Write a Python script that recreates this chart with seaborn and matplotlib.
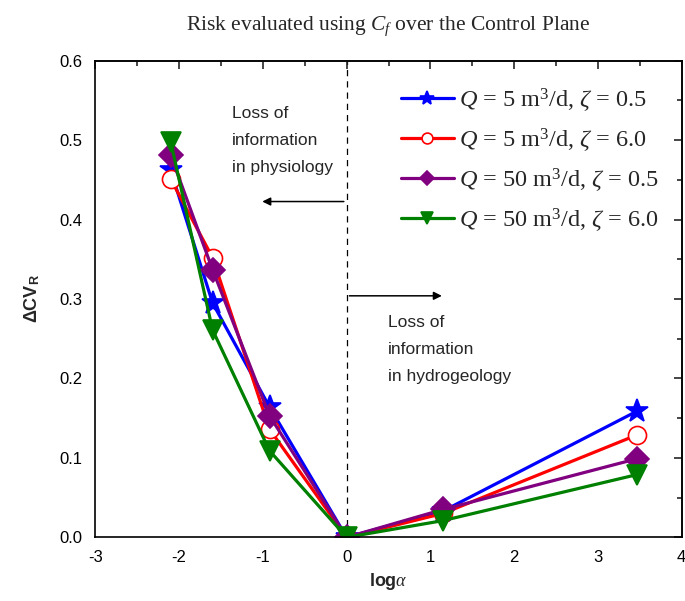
import matplotlib
matplotlib.use("Agg")
import matplotlib.pyplot as plt
import seaborn as sns
import pandas as pd

sns.set_theme(style="white")
plt.rcParams['font.family'] = ['Liberation Sans', 'DejaVu Sans']
plt.rcParams['mathtext.fontset'] = 'custom'
plt.rcParams['mathtext.rm'] = 'Liberation Serif'
plt.rcParams['mathtext.it'] = 'Liberation Serif:italic'
plt.rcParams['mathtext.bf'] = 'Liberation Sans:bold'

log_alpha = [-2.1, -1.6, -0.92, 0.0, 1.15, 3.47]
series_labels = [r"$Q$ = 5 m$^3$/d, $\zeta$ = 0.5",
                 r"$Q$ = 5 m$^3$/d, $\zeta$ = 6.0",
                 r"$Q$ = 50 m$^3$/d, $\zeta$ = 0.5",
                 r"$Q$ = 50 m$^3$/d, $\zeta$ = 6.0"]
q5_z05 = [0.462, 0.295, 0.164, 0.0, 0.033, 0.159]
q5_z60 = [0.451, 0.352, 0.136, 0.0, 0.030, 0.129]
q50_z05 = [0.481, 0.337, 0.153, 0.0, 0.035, 0.099]
q50_z60 = [0.498, 0.261, 0.109, 0.0, 0.021, 0.079]
x_ticks = [-3, -2, -1, 0, 1, 2, 3, 4]
y_ticks = [0.0, 0.1, 0.2, 0.3, 0.4, 0.5, 0.6]

colors = ['#0000FF', '#FF0000', '#800080', '#008000']
markers = ['*', 'o', 'D', 'v']
msizes = [17, 13, 12, 14]
faces = ['#0000FF', 'white', '#800080', '#008000']

fig = plt.figure(figsize=(6.85, 6.01), dpi=100)
ax = fig.add_axes([95.3/685, 1-537.3/601, (681.7-95.3)/685, (537.3-60.7)/601])

for vals, lab, c, m, ms, fc in zip([q5_z05, q5_z60, q50_z05, q50_z60], series_labels,
                                   colors, markers, msizes, faces):
    df = pd.DataFrame({'x': log_alpha, 'y': vals})
    sns.lineplot(data=df, x='x', y='y', ax=ax, color=c, marker=m, markersize=ms,
                 markerfacecolor=fc, markeredgecolor=c, markeredgewidth=1.2,
                 linewidth=2.3, label=lab, sort=False)

ax.axvline(0, color='black', linestyle=(0, (5, 4)), linewidth=0.9, zorder=0)

ax.set_xlim(-3, 4)
ax.set_ylim(0, 0.6)
ax.set_xticks(x_ticks)
ax.set_xticklabels([str(t) for t in x_ticks])
ax.set_yticks(y_ticks)
ax.set_yticklabels([f"{t:.1f}" for t in y_ticks])
ax.set_xticks([t + 0.5 for t in x_ticks[:-1]], minor=True)
ax.set_yticks([t + 0.05 for t in y_ticks[:-1]], minor=True)
ax.tick_params(axis='both', which='major', direction='out', length=6, width=1.2,
               labelsize=12, colors='black')
ax.tick_params(axis='both', which='minor', direction='out', length=3.5, width=1.2)
for s in ax.spines.values():
    s.set_linewidth(1.2)
    s.set_color('black')

secx = ax.secondary_xaxis('top')
secx.set_xticks(x_ticks)
secx.set_xticks([t + 0.5 for t in x_ticks[:-1]], minor=True)
secx.tick_params(which='major', direction='in', length=6, width=1.2, labeltop=False)
secx.tick_params(which='minor', direction='in', length=3.5, width=1.2)
secy = ax.secondary_yaxis('right')
secy.set_yticks(y_ticks)
secy.set_yticks([t + 0.05 for t in y_ticks[:-1]], minor=True)
secy.tick_params(which='major', direction='in', length=6, width=1.2, labelright=False)
secy.tick_params(which='minor', direction='in', length=3.5, width=1.2)

ax.set_xlabel(r"log$\mathit{\alpha}$", fontsize=13, fontweight='bold', labelpad=4)
ax.set_ylabel(r"ΔCV$_\mathbf{R}$", fontsize=13, fontweight='bold', labelpad=12)
ax.set_title(r"Risk evaluated using $C_f$ over the Control Plane",
             family='Liberation Serif', fontsize=15.5, pad=22)

ax.annotate('', xy=(-1.04, 0.4227), xytext=(0, 0.4227),
            arrowprops=dict(arrowstyle='-|>', color='black', lw=1.1, mutation_scale=12))
ax.annotate('', xy=(1.17, 0.304), xytext=(0, 0.304),
            arrowprops=dict(arrowstyle='-|>', color='black', lw=1.1, mutation_scale=12))
ax.text(-1.37, 0.543, "Loss of\ninformation\nin physiology", fontsize=12.5,
        va='top', ha='left', linespacing=2.0)
ax.text(0.493, 0.280, "Loss of\ninformation\nin hydrogeology", fontsize=12.5,
        va='top', ha='left', linespacing=2.0)

leg = ax.legend(loc='upper left', bbox_to_anchor=(0.4915, 0.983), frameon=False,
                prop={'family': 'Liberation Serif', 'size': 17.5}, markerscale=0.6,
                handlelength=2.2, handletextpad=0.2, labelspacing=0.5,
                borderaxespad=0.3)

fig.savefig('out.png', dpi=100)
